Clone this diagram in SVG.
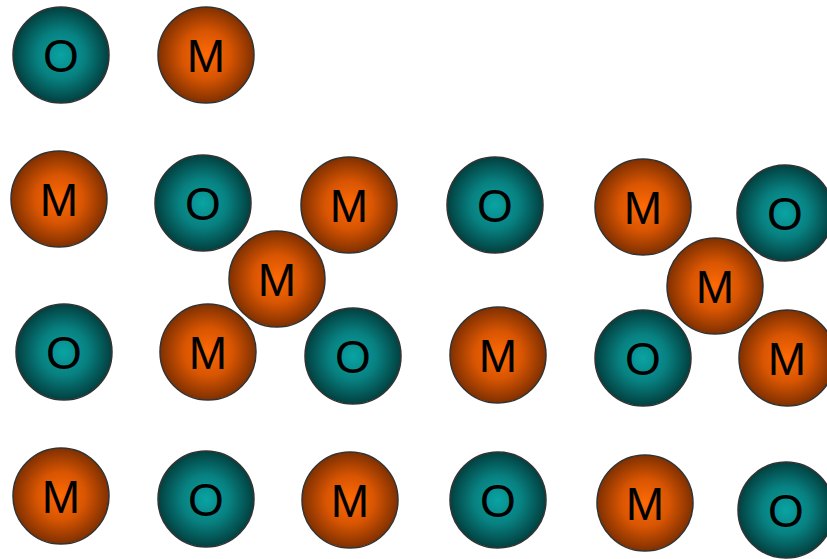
<svg xmlns="http://www.w3.org/2000/svg" width="827" height="559" viewBox="0 0 827 559">
<style>
.o{fill:url(#gO);stroke:#333;stroke-width:1.5}
.m{fill:url(#gM);stroke:#333;stroke-width:1.5}
text{font-family:"Liberation Sans",Arial,sans-serif;font-size:46px;fill:#000;text-anchor:middle}
</style>
<defs>
<radialGradient id="gO" cx="50%" cy="50%" r="50%">
<stop offset="0" stop-color="#0aa3a3"/>
<stop offset="0.5" stop-color="#088080"/>
<stop offset="1" stop-color="#024040"/>
</radialGradient>
<radialGradient id="gM" cx="50%" cy="50%" r="50%">
<stop offset="0" stop-color="#ff6a05"/>
<stop offset="0.5" stop-color="#d85502"/>
<stop offset="1" stop-color="#803000"/>
</radialGradient>
</defs>
<g id="nodes">
<g id="n1"><circle class="o" cx="61" cy="55" r="48"/><text x="61" y="72">O</text></g>
<g id="n2"><circle class="m" cx="206" cy="55" r="48"/><text x="206" y="72">M</text></g>
<g id="n3"><circle class="m" cx="59" cy="199" r="48"/><text x="59" y="216">M</text></g>
<g id="n4"><circle class="o" cx="203" cy="203" r="48"/><text x="203" y="220">O</text></g>
<g id="n5"><circle class="m" cx="349" cy="205" r="48"/><text x="349" y="222">M</text></g>
<g id="n6"><circle class="o" cx="495" cy="205" r="48"/><text x="495" y="222">O</text></g>
<g id="n7"><circle class="m" cx="643" cy="207" r="48"/><text x="643" y="224">M</text></g>
<g id="n8"><circle class="o" cx="785" cy="213" r="48"/><text x="785" y="230">O</text></g>
<g id="n9"><circle class="m" cx="277" cy="279" r="48"/><text x="277" y="296">M</text></g>
<g id="n10"><circle class="m" cx="715" cy="286" r="48"/><text x="715" y="303">M</text></g>
<g id="n11"><circle class="o" cx="64" cy="352" r="48"/><text x="64" y="369">O</text></g>
<g id="n12"><circle class="m" cx="208" cy="352" r="48"/><text x="208" y="369">M</text></g>
<g id="n13"><circle class="o" cx="353" cy="356" r="48"/><text x="353" y="373">O</text></g>
<g id="n14"><circle class="m" cx="498" cy="355" r="48"/><text x="498" y="372">M</text></g>
<g id="n15"><circle class="o" cx="643" cy="358" r="48"/><text x="643" y="375">O</text></g>
<g id="n16"><circle class="m" cx="787" cy="358" r="48"/><text x="787" y="375">M</text></g>
<g id="n17"><circle class="m" cx="61" cy="496" r="48"/><text x="61" y="513">M</text></g>
<g id="n18"><circle class="o" cx="206" cy="499" r="48"/><text x="206" y="516">O</text></g>
<g id="n19"><circle class="m" cx="350" cy="500" r="48"/><text x="350" y="517">M</text></g>
<g id="n20"><circle class="o" cx="498" cy="500" r="48"/><text x="498" y="517">O</text></g>
<g id="n21"><circle class="m" cx="645" cy="503" r="48"/><text x="645" y="520">M</text></g>
<g id="n22"><circle class="o" cx="786" cy="510" r="48"/><text x="786" y="527">O</text></g>
</g>
<g id="connectors"></g>
</svg>
